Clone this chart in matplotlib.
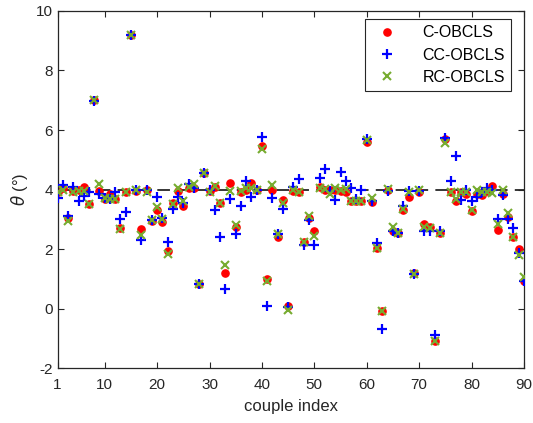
import numpy as np
import matplotlib
matplotlib.use("Agg")
import matplotlib.pyplot as plt

plt.rcParams['font.family'] = ['Liberation Sans', 'DejaVu Sans']
plt.rcParams['axes.unicode_minus'] = False

idx = np.arange(1, 91)
c_obcls = [3.9, 4.05, 3.05, 3.95, 4.0, 4.1, 3.5, 7.0, 3.95, 3.67,
           3.84, 3.67, 2.7, 3.9, 9.2, 3.95, 2.67, 4.0, 2.95, 3.32,
           2.92, 1.92, 3.56, 3.95, 3.45, 4.05, 4.05, 0.83, 4.55, 3.95,
           4.1, 3.56, 1.19, 4.23, 2.75, 3.9, 4.0, 4.23, 4.0, 5.46,
           0.98, 3.99, 2.4, 3.65, 0.1, 3.95, 3.93, 2.22, 3.05, 2.62,
           4.1, 3.99, 4.0, 3.99, 3.96, 3.9, 3.62, 3.62, 3.6, 5.6,
           3.58, 2.03, -0.1, 3.99, 2.59, 2.55, 3.3, 3.74, 1.2, 3.9,
           2.85, 2.75, -1.1, 2.55, 5.7, 3.93, 3.6, 3.9, 3.85, 3.28,
           3.85, 3.82, 3.95, 4.12, 2.64, 3.85, 3.07, 2.4, 2.0, 0.93]
cc_obcls = [3.7, 4.15, 3.1, 4.1, 3.6, 3.77, 3.9, 6.97, 3.84, 3.7,
            3.67, 3.93, 3.0, 3.26, 9.2, 4.0, 2.31, 3.97, 2.98, 3.74,
            3.04, 2.22, 3.34, 3.74, 3.55, 4.2, 4.05, 0.83, 4.55, 4.0,
            3.32, 2.42, 0.65, 3.67, 2.51, 3.43, 4.27, 3.74, 4.0, 5.75,
            0.09, 3.71, 2.5, 3.34, 0.05, 4.1, 4.35, 2.15, 2.96, 2.13,
            4.38, 4.68, 3.96, 3.65, 4.6, 4.3, 4.05, 3.67, 3.99, 5.7,
            3.6, 2.2, -0.7, 3.96, 2.62, 2.53, 3.43, 3.96, 1.17, 3.95,
            2.59, 2.62, -0.88, 2.62, 5.72, 4.27, 5.13, 3.65, 4.0, 3.6,
            3.74, 3.9, 4.04, 4.0, 3.0, 3.82, 3.0, 2.7, 1.88, 0.91]
rc_obcls = [3.9, 4.0, 2.95, 3.9, 3.95, 3.95, 3.5, 7.0, 4.18, 3.7,
            3.67, 3.67, 2.67, 3.9, 9.2, 4.0, 2.48, 3.9, 2.98, 3.4,
            3.0, 1.83, 3.5, 4.05, 3.6, 4.1, 4.2, 0.83, 4.55, 3.9,
            4.12, 3.56, 1.47, 3.96, 2.8, 3.96, 4.04, 4.04, 4.0, 5.35,
            0.92, 4.15, 2.5, 3.56, -0.04, 4.0, 3.9, 2.25, 3.1, 2.44,
            4.05, 4.03, 3.85, 4.05, 4.0, 4.03, 3.62, 3.62, 3.6, 5.65,
            3.7, 2.03, -0.1, 4.03, 2.75, 2.53, 3.34, 3.9, 1.15, 4.0,
            2.75, 2.7, -1.1, 2.55, 5.55, 3.93, 3.67, 3.9, 3.9, 3.3,
            4.0, 3.9, 3.9, 3.88, 2.85, 3.99, 3.2, 2.4, 1.8, 1.05]
ref_value = 4
xticks = [1, 10, 20, 30, 40, 50, 60, 70, 80, 90]
yticks = [-2, 0, 2, 4, 6, 8, 10]

fig = plt.figure(figsize=(5.33, 4.23), dpi=100)
ax = fig.add_axes([0.108, 0.130, 0.875, 0.844])

ax.plot([1, 90], [ref_value, ref_value], linestyle=(0, (7, 4)), color='#262626', lw=1.3, zorder=1)
ax.plot(idx, c_obcls, linestyle='none', marker='o', ms=5.2, color='#FF0000', mec='#FF0000', label='C-OBCLS', zorder=2)
ax.plot(idx, cc_obcls, linestyle='none', marker='+', ms=7, mew=1.6, color='#0000FF', label='CC-OBCLS', zorder=3)
ax.plot(idx, rc_obcls, linestyle='none', marker='x', ms=5.5, mew=1.5, color='#77AC30', label='RC-OBCLS', zorder=4)

ax.set_xlim(1, 90)
ax.set_ylim(-2, 10)
ax.set_xticks(xticks)
ax.set_yticks(yticks)
ax.tick_params(direction='in', top=True, right=True, labelsize=11, length=4, width=0.8,
               colors='#262626', labelcolor='#262626')
ax.tick_params(axis='x', pad=7)
for s in ax.spines.values():
    s.set_linewidth(0.9)
    s.set_color('#262626')
ax.set_xlabel('couple index', fontsize=12, color='#262626', labelpad=5)
ax.set_ylabel(r'$\theta$ (°)', fontsize=12, color='#262626')

leg = ax.legend(loc='upper right', fontsize=11.5, frameon=True, fancybox=False, framealpha=1,
                edgecolor='#262626', borderpad=0.4, handletextpad=1.2, labelspacing=0.45,
                bbox_to_anchor=(0.99, 1.0))
leg.get_frame().set_linewidth(0.8)

fig.savefig('out.png', dpi=100)
